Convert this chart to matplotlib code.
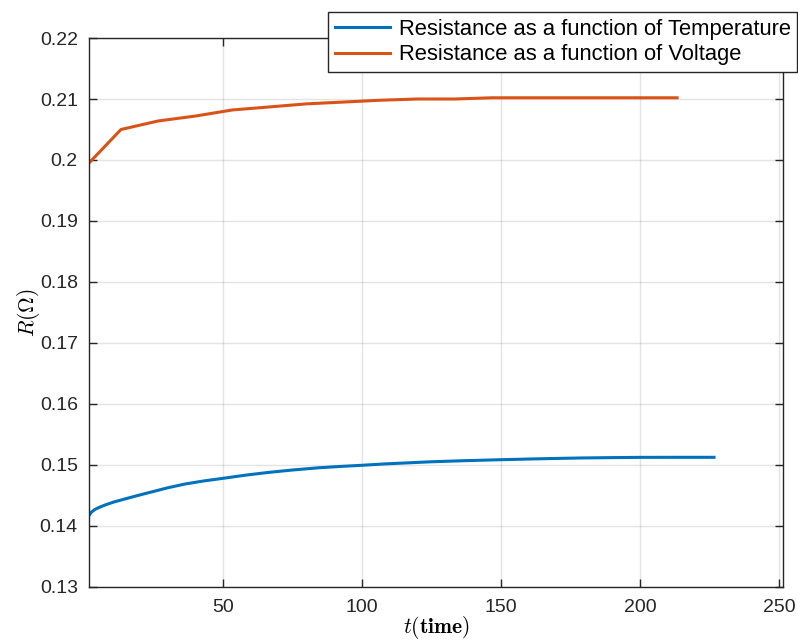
import numpy as np
import matplotlib
matplotlib.use('Agg')
import matplotlib.pyplot as plt

# Resistance as a function of temperature (dense measurement)
t_temp = [1.8, 2.6, 4.0, 5.8, 7.6, 10.5, 14.7, 19.5, 24.3, 30, 36.3, 43,
          50.1, 58, 66.3, 75, 84.3, 92, 99.9, 108.3, 124.5, 137, 150.2,
          164, 178.4, 190, 200, 213, 226.6]
r_temp = [0.1417, 0.14225, 0.14273, 0.14312, 0.14344, 0.14390, 0.14443,
          0.14502, 0.14558, 0.14625, 0.14688, 0.14738, 0.14782, 0.14833,
          0.14878, 0.14918, 0.14954, 0.14976, 0.14995, 0.15018, 0.15052,
          0.15071, 0.15087, 0.15102, 0.15115, 0.15121, 0.15125, 0.15126,
          0.15126]

# Resistance as a function of voltage (sampled every ~13.3 s)
t_volt = [1.8, 13.3, 26.7, 40, 53.3, 66.7, 80, 93.3, 106.7, 120, 133.3,
          146.7, 160, 173.3, 186.7, 200, 213.3]
r_volt = [0.1995, 0.2050, 0.2064, 0.2072, 0.2082, 0.2087, 0.2092, 0.2095,
          0.2098, 0.2100, 0.2100, 0.2102, 0.2102, 0.2102, 0.2102, 0.2102,
          0.2102]

x_ticks = [50, 100, 150, 200, 250]
y_ticks = [0.13, 0.14, 0.15, 0.16, 0.17, 0.18, 0.19, 0.20, 0.21, 0.22]

plt.rcParams['font.family'] = ['Liberation Sans', 'DejaVu Sans']
plt.rcParams['mathtext.fontset'] = 'cm'

fig = plt.figure(figsize=(7.98, 6.43), dpi=100)
ax = fig.add_axes([0.1115, 0.0871, 0.8697, 0.8538])

ax.plot(t_temp, r_temp, color='#0072BD', lw=2.2,
        label='Resistance as a function of Temperature')
ax.plot(t_volt, r_volt, color='#D95319', lw=2.2,
        label='Resistance as a function of Voltage')

ax.set_xlim(1.8, 251.4)
ax.set_ylim(0.13, 0.22)
ax.set_xticks(x_ticks)
ax.set_yticks(y_ticks)
ax.set_yticklabels(['%g' % v for v in y_ticks])

ax.grid(True, color='#262626', alpha=0.12, lw=1)
ax.tick_params(direction='in', top=True, right=True, length=6,
               labelsize=14, colors='#262626', width=1)
ax.tick_params(axis='y', pad=8)
ax.tick_params(axis='x', pad=9)
for s in ax.spines.values():
    s.set_color('#262626')
    s.set_linewidth(1)

ax.set_xlabel(r'$t(\mathbf{time})$', fontsize=15.5)
ax.set_ylabel(r'$R(\Omega)$', fontsize=15.5)
ax.xaxis.set_label_coords(0.5, -0.05)
ax.yaxis.set_label_coords(-0.067, 0.5)

leg = fig.legend(loc='upper right', bbox_to_anchor=(0.999, 0.981),
                 fontsize=15.8, fancybox=False, framealpha=1,
                 edgecolor='#262626', handlelength=2.5, borderpad=0.3,
                 labelspacing=0.2, handletextpad=0.4, borderaxespad=0)
leg.get_frame().set_linewidth(1)

fig.savefig('out.png', dpi=100)
